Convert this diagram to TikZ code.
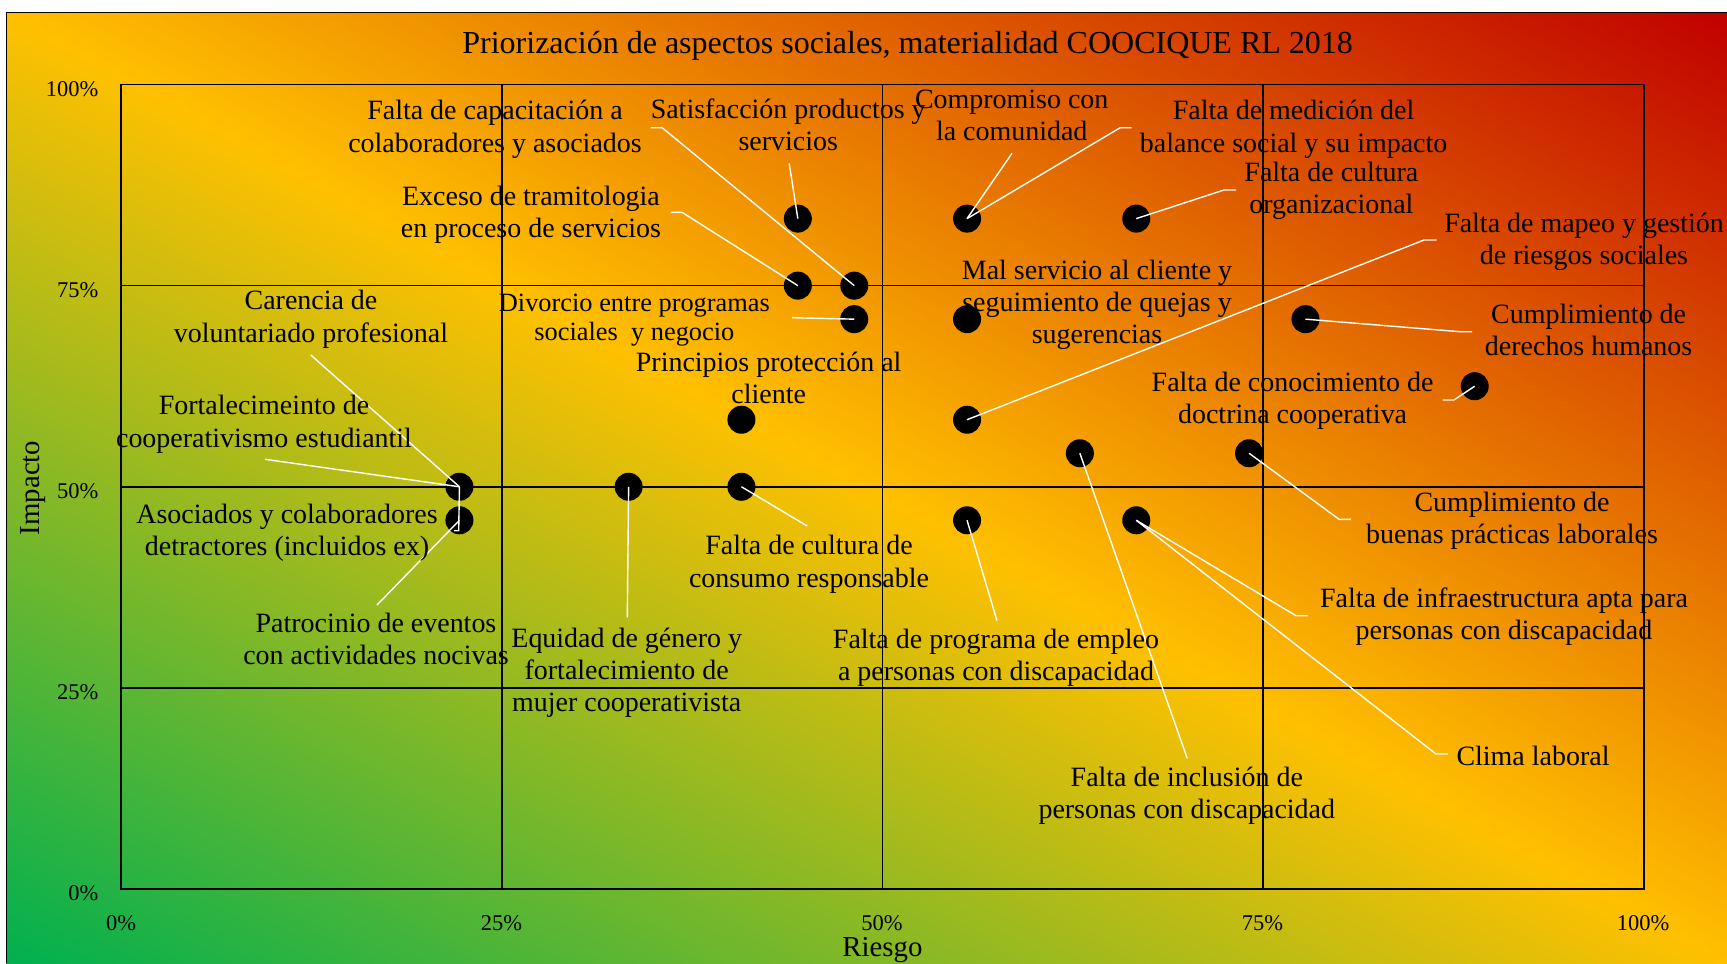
\documentclass[tikz,border=0pt]{standalone}
\usepackage{fontspec}
\setmainfont{Liberation Serif}
\usetikzlibrary{calc}

\definecolor{bggreen}{HTML}{00B050}
\definecolor{bgyellow}{HTML}{FFC000}
\definecolor{bgred}{HTML}{C00000}

% left-to-right ramp; the square it fills is turned and stretched onto the chart area
\pgfdeclarehorizontalshading{chartbg}{100bp}{color(0bp)=(bggreen); color(32.32bp)=(bggreen); color(50bp)=(bgyellow); color(67.68bp)=(bgred); color(100bp)=(bgred)}

% centred multi-line label with fixed line pitch
\newcommand\ml[1]{\begin{tabular}{@{}c@{}}#1\end{tabular}}

\begin{document}
\begin{tikzpicture}[x=0.01cm, y=-0.01cm,
  lbl/.style={inner sep=0pt, font=\fontsize{7.95}{9.15}\selectfont},
  lblsmall/.style={inner sep=0pt, font=\fontsize{7.5}{8.15}\selectfont},
  ticklbl/.style={inner sep=0pt, font=\fontsize{6.4}{7.7}\selectfont, text height=0.68em, text depth=0pt},
  axtitle/.style={inner sep=0pt, font=\fontsize{8.2}{9.8}\selectfont},
  gridln/.style={line width=0.45pt, black},
  leader/.style={white, line width=0.4pt},
  dot/.style={circle, fill=black, inner sep=0pt, minimum size=0.28cm},
]
\useasboundingbox (0,0) rectangle (1727,963);

% chart area: diagonal green -> amber -> dark red, corner to corner
\begin{scope}
  \clip (6,12) rectangle (1727,963);
  \begin{scope}[transform canvas={shift={(866.5,487.5)}, xscale=8.605, yscale=4.755, rotate=45}]
    \shade[shading=chartbg] (-200,-200) rectangle (200,200);
  \end{scope}
\end{scope}
\draw[line width=0.35pt] (6.5,963) -- (6.5,12.5) -- (1727,12.5);

% plot area in data units (x: 1/27, y: 1/24)
\begin{scope}[shift={(121,889)}, x=0.56370cm, y=0.335cm]
  \draw[gridln] (0,0) rectangle (27,24);
  \draw[gridln] (6.75,0) -- (6.75,24);
  \draw[gridln] (13.5,0) -- (13.5,24);
  \draw[gridln] (20.25,0) -- (20.25,24);
  \draw[gridln] (0,6) -- (27,6);
  \draw[gridln] (0,12) -- (27,12);
  \draw[gridln] (0,18) -- (27,18);

  \node[dot] (dSat)  at (12,20) {};
  \node[dot] (dCom)  at (15,20) {};
  \node[dot] (dCul)  at (18,20) {};
  \node[dot] (dExc)  at (12,18) {};
  \node[dot] (dCap)  at (13,18) {};
  \node[dot] (dDiv)  at (13,17) {};
  \node[dot] (dMal)  at (15,17) {};
  \node[dot] (dDer)  at (21,17) {};
  \node[dot] (dCon)  at (24,15) {};
  \node[dot] (dPri)  at (11,14) {};
  \node[dot] (dMap)  at (15,14) {};
  \node[dot] (dBue)  at (20,13) {};
  \node[dot] (dInc)  at (17,13) {};
  \node[dot] (dFor)  at (6,12) {};
  \node[dot] (dEqu)  at (9,12) {};
  \node[dot] (dCons) at (11,12) {};
  \node[dot] (dAso)  at (6,11) {};
  \node[dot] (dEmp)  at (15,11) {};
  \node[dot] (dInf)  at (18,11) {};
\end{scope}

% axis ticks
\node[ticklbl, anchor=east] (y100) at (99,85) {100\%};
\node[ticklbl, anchor=east] (y75)  at (99,286) {75\%};
\node[ticklbl, anchor=east] (y50)  at (99,487) {50\%};
\node[ticklbl, anchor=east] (y25)  at (99,688) {25\%};
\node[ticklbl, anchor=east] (y0)   at (99,889) {0\%};
\node[ticklbl] (x0)   at (121,918.3) {0\%};
\node[ticklbl] (x25)  at (501.5,918.3) {25\%};
\node[ticklbl] (x50)  at (882,918.3) {50\%};
\node[ticklbl] (x75)  at (1262.5,918.3) {75\%};
\node[ticklbl] (x100) at (1643,918.3) {100\%};

% axis titles and chart title
\node[axtitle, anchor=base] (xtitle) at (882.4,956) {Riesgo};
\node[axtitle, anchor=base, rotate=90] (ytitle) at (39.5,488) {Impacto};
\node[inner sep=0pt, font=\fontsize{9.1}{10.9}\selectfont, anchor=base] (title) at (907.6,53.5)
  {Priorización de aspectos sociales, materialidad COOCIQUE RL 2018};

% leader lines
\coordinate (satE) at (789.2,163.3);
\coordinate (capB) at (662.1,127.7);  \coordinate (capE) at (650.6,127.7);
\coordinate (excB) at (682,212.3);    \coordinate (excE) at (670.5,212.3);
\coordinate (comE) at (1012,153.3);
\coordinate (medB) at (1120.2,127.7); \coordinate (medE) at (1131.7,127.7);
\coordinate (culB) at (1224,190);     \coordinate (culE) at (1236,190);
\coordinate (divE) at (792.2,317.7);
\coordinate (mapB) at (1424,240);     \coordinate (mapE) at (1436.7,240);
\coordinate (derB) at (1460,331.7);   \coordinate (derE) at (1472,331.7);
\coordinate (conB) at (1453.9,400);   \coordinate (conE) at (1442.7,400);
\coordinate (bueB) at (1339.1,519.3); \coordinate (bueE) at (1351.1,519.3);
\coordinate (incE) at (1187.2,758.3);
\coordinate (infB) at (1296,615.7);   \coordinate (infE) at (1308,615.7);
\coordinate (cliB) at (1436,754);     \coordinate (cliE) at (1448,754);
\coordinate (empE) at (997,620.7);
\coordinate (consE) at (807.2,526);
\coordinate (equE) at (627.3,617.3);
\coordinate (carE) at (310.8,355);
\coordinate (forE) at (265.2,459.3);
\coordinate (asoB) at (458.7,530.7);  \coordinate (asoE) at (454,530.7);
\coordinate (patE) at (377,605);

\draw[leader] (dSat.center) -- (satE);
\draw[leader] (dCap.center) -- (capB) -- (capE);
\draw[leader] (dExc.center) -- (excB) -- (excE);
\draw[leader] (dCom.center) -- (comE);
\draw[leader] (dCom.center) -- (medB) -- (medE);
\draw[leader] (dCul.center) -- (culB) -- (culE);
\draw[leader] (dDiv.center) -- (divE);
\draw[leader] (dMap.center) -- (mapB) -- (mapE);
\draw[leader] (dDer.center) -- (derB) -- (derE);
\draw[leader] (dCon.center) -- (conB) -- (conE);
\draw[leader] (dBue.center) -- (bueB) -- (bueE);
\draw[leader] (dInc.center) -- (incE);
\draw[leader] (dInf.center) -- (infB) -- (infE);
\draw[leader] (dInf.center) -- (cliB) -- (cliE);
\draw[leader] (dEmp.center) -- (empE);
\draw[leader] (dCons.center) -- (consE);
\draw[leader] (dEqu.center) -- (equE);
\draw[leader] (dFor.center) -- (carE);
\draw[leader] (dFor.center) -- (forE);
\draw[leader] (dFor.center) -- (asoB) -- (asoE);
\draw[leader] (dAso.center) -- (patE);

% data labels
\node[lbl] (lCap) at (495,129.5)    {\ml{Falta de capacitación a\\colaboradores y asociados}};
\node[lbl] (lSat) at (788.2,128.3)  {\ml{Satisfacción productos y\\servicios}};
\node[lbl] (lCom) at (1011.7,118.3) {\ml{Compromiso con\\la comunidad}};
\node[lbl] (lMed) at (1293.6,129.5) {\ml{Falta de medición del\\balance social y su impacto}};
\node[lbl] (lCul) at (1331.4,191)   {\ml{Falta de cultura\\organizacional}};
\node[lbl] (lExc) at (531,215)      {\ml{Exceso de tramitologia\\en proceso de servicios}};
\node[lbl] (lMap) at (1584,242)     {\ml{Falta de mapeo y gestión\\de riesgos sociales}};
\node[lbl] (lMal) at (1097,305)     {\ml{Mal servicio al cliente y\\seguimiento de quejas y\\sugerencias}};
\node[lbl] (lCar) at (311,319.5)    {\ml{Carencia de\\voluntariado profesional}};
\node[lblsmall] (lDiv) at (634.4,320) {\ml{Divorcio entre programas\\sociales\ \ y negocio}};
\node[lbl] (lDer) at (1588.6,333)   {\ml{Cumplimiento de\\derechos humanos}};
\node[lbl] (lPri) at (768.7,381)    {\ml{Principios protección al\\cliente}};
\node[lbl] (lCon) at (1292.6,401)   {\ml{Falta de conocimiento de\\doctrina cooperativa}};
\node[lbl] (lFor) at (264,424.5)    {\ml{Fortalecimeinto de\\cooperativismo estudiantil}};
\node[lbl] (lAso) at (287,533)      {\ml{Asociados y colaboradores\\detractores (incluidos ex)}};
\node[lbl] (lBue) at (1512,521)     {\ml{Cumplimiento de\\buenas prácticas laborales}};
\node[lbl] (lCons) at (809,564.5)   {\ml{Falta de cultura de\\consumo responsable}};
\node[lbl] (lInf) at (1504,616.7)   {\ml{Falta de infraestructura apta para\\personas con discapacidad}};
\node[lbl] (lPat) at (376,642)      {\ml{Patrocinio de eventos\\con actividades nocivas}};
\node[lbl] (lEqu) at (626.7,673)    {\ml{Equidad de género y\\fortalecimiento de\\mujer cooperativista}};
\node[lbl] (lEmp) at (996,657.8)    {\ml{Falta de programa de empleo\\a personas con discapacidad}};
\node[lbl] (lCli) at (1533,759)     {\ml{Clima laboral}};
\node[lbl] (lInc) at (1186.8,796)   {\ml{Falta de inclusión de\\personas con discapacidad}};
\end{tikzpicture}
\end{document}
